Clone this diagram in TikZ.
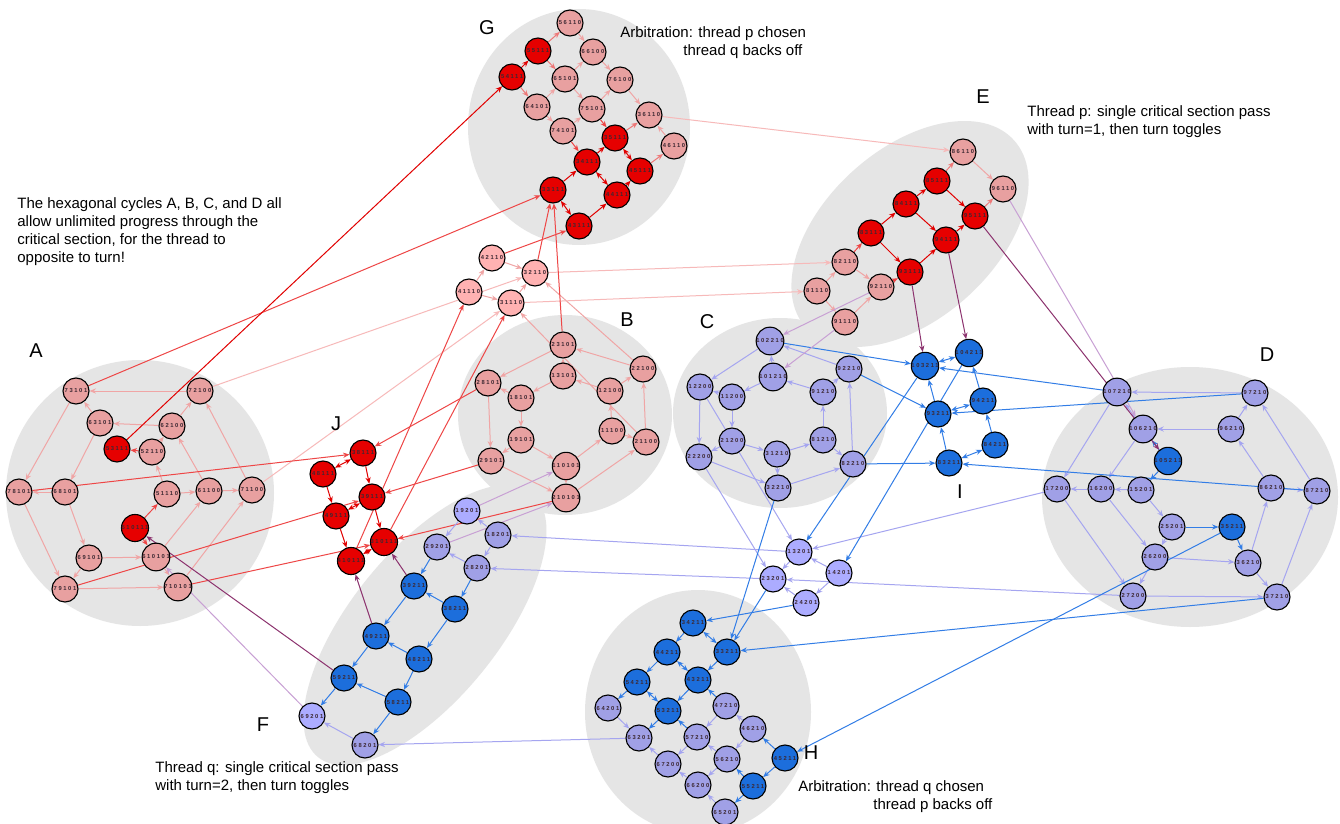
\documentclass[tikz,border=0pt]{standalone}
\usepackage{fontspec}
\setmainfont{Liberation Sans}
\newfontfamily\lblfont[LetterSpace=28]{Liberation Sans}
\usetikzlibrary{arrows.meta}
\pgfdeclarelayer{bg}
\pgfdeclarelayer{edges}
\pgfsetlayers{bg,edges,main}

% node fills
\definecolor{cpk}{RGB}{232,160,160}
\definecolor{clp}{RGB}{255,178,178}
\definecolor{crd}{RGB}{230,0,0}
\definecolor{clv}{RGB}{160,160,230}
\definecolor{cll}{RGB}{172,172,255}
\definecolor{cbl}{RGB}{28,110,220}
\definecolor{cgr}{RGB}{229,229,229}
% connector colours
\definecolor{kpk}{RGB}{240,165,165}
\definecolor{klp}{RGB}{247,185,185}
\definecolor{kmr}{RGB}{238,120,120}
\definecolor{krd}{RGB}{238,70,70}
\definecolor{krr}{RGB}{225,0,0}
\definecolor{klv}{RGB}{165,165,240}
\definecolor{kbl}{RGB}{50,125,230}
\definecolor{kpu}{RGB}{140,50,110}
\definecolor{klu}{RGB}{200,160,212}
% label ink
\definecolor{ink}{RGB}{60,40,50}

\begin{document}
\begin{tikzpicture}[x=0.5pt,y=-0.5pt,
  >={Stealth[length=3.2pt,width=2.6pt]},
  st/.style={circle,draw=black,line width=0.55pt,minimum size=13pt,inner sep=0pt,
    text=ink,font=\lblfont\bfseries\fontsize{2.9pt}{3pt}\selectfont},
  pk/.style={st,fill=cpk}, lp/.style={st,fill=clp}, rd/.style={st,fill=crd},
  lv/.style={st,fill=clv}, ll/.style={st,fill=cll}, bl/.style={st,fill=cbl},
  ed/.style={->,line width=0.5pt},
  dbl/.style={<->,line width=0.5pt},
  ep/.style={ed,draw=kpk}, elp/.style={ed,draw=klp}, emr/.style={ed,draw=kmr},
  er/.style={ed,draw=krd}, err/.style={ed,draw=krr},
  ev/.style={ed,draw=klv}, eb/.style={ed,draw=kbl},
  epu/.style={ed,draw=kpu}, elu/.style={ed,draw=klu},
  txt/.style={font=\fontsize{7.5pt}{9pt}\selectfont,align=left,inner sep=0pt,anchor=north west},
  big/.style={font=\fontsize{10pt}{12pt}\selectfont,inner sep=0pt}]

\useasboundingbox (0,0) rectangle (1340,824);

% cluster backgrounds
\begin{pgfonlayer}{bg}
  \fill[white] (0,0) rectangle (1340,824);
  \fill[cgr] (579,127) ellipse [x radius=55.5pt,y radius=59pt];
  \fill[cgr,rotate around={42:(910,234)}] (910,234) ellipse [x radius=70pt,y radius=42.5pt];
  \fill[cgr] (140,493) ellipse [x radius=67pt,y radius=66.5pt];
  \fill[cgr] (565,415) ellipse [x radius=53.5pt,y radius=50pt];
  \fill[cgr] (780,413) ellipse [x radius=53.5pt,y radius=47.5pt];
  \fill[cgr] (1190,497) ellipse [x radius=74pt,y radius=65pt];
  \fill[cgr,rotate around={51:(425,625)}] (425,625) ellipse [x radius=85pt,y radius=37pt];
  \fill[cgr] (698,712) ellipse [x radius=56.5pt,y radius=61pt];
\end{pgfonlayer}

% G
\foreach \nm/\x/\y in {56110/570/23,66100/593/52,65101/565/79,76100/620/80,64101/537/107,
  75101/592/109,36110/649/115,74101/563/131,46110/674/146}
  \node[pk] (n\nm) at (\x,\y) {\nm};
\foreach \nm/\x/\y in {55111/538/51,54111/512/77,35111/615/138,34111/587/162,45111/640/171,
  33111/553/190,44111/617/195,43111/579/226}
  \node[rd] (n\nm) at (\x,\y) {\nm};
% E
\foreach \nm/\x/\y in {86110/963/152,96110/1003/189,82110/845/262,81110/817/291,92110/881/287,91110/845/322}
  \node[pk] (n\nm) at (\x,\y) {\nm};
\foreach \nm/\x/\y in {85111/937/181,84111/906/204,95111/975/216,83111/871/233,94111/946/240,93111/910/272}
  \node[rd] (n\nm) at (\x,\y) {\nm};
% A
\foreach \nm/\x/\y in {73101/76/391,72100/200/391,63101/100/423,62100/172/426,52110/152/452,
  78101/19/492,68101/65/492,51110/167/494,61100/209/491,71100/252/490,69101/89/558,
  610101/156/557,79101/65/589,710101/178/587}
  \node[pk] (n\nm) at (\x,\y) {\nm};
\node[rd] (n53111) at (117,449) {53111};
\node[rd] (n510111) at (135,528) {510111};
% between A, B and G
\foreach \nm/\x/\y in {42110/492/258,32110/535/273,41110/469/292,31110/511/303}
  \node[lp] (n\nm) at (\x,\y) {\nm};
% B
\foreach \nm/\x/\y in {23101/563/345,22100/643/369,13101/563/376,28101/488/383,12100/610/391,
  18101/521/398,11100/612/431,21100/646/442,19101/521/440,29101/491/461,110101/566/466,210101/566/498}
  \node[pk] (n\nm) at (\x,\y) {\nm};
% J
\foreach \nm/\x/\y in {38111/363/453,48111/323/474,39111/372/497,49111/336/516,310111/384/542,410111/351/561}
  \node[rd] (n\nm) at (\x,\y) {\nm};
% C
\foreach \nm/\x/\y in {102210/770/341,92210/849/369,101210/773/377,91210/823/392,12200/700/387,
  11200/732/397,21200/732/441,81210/823/440,31210/777/454,22200/699/457,82210/853/464,32210/778/488}
  \node[lv] (n\nm) at (\x,\y) {\nm};
% I
\foreach \nm/\x/\y in {103211/925/366,104211/969/353,94211/983/401,93211/938/414,84211/995/445,83211/949/463}
  \node[bl] (n\nm) at (\x,\y) {\nm};
% D
\foreach \nm/\x/\y in {107210/1117/392,97210/1255/393,106210/1143/429,96210/1231/429,17200/1057/489,
  16200/1101/489,15201/1141/490,86210/1271/488,87210/1317/491,25201/1172/527,26200/1155/557,
  36210/1248/563,27200/1133/596,37210/1277/597}
  \node[lv] (n\nm) at (\x,\y) {\nm};
\node[bl] (n105211) at (1168,461) {105211};
\node[bl] (n35211) at (1232,527) {35211};
% F
\foreach \nm/\x/\y in {18201/498/535,29201/437/547,28201/477/568,68201/365/745}
  \node[lv] (n\nm) at (\x,\y) {\nm};
\foreach \nm/\x/\y in {19201/467/511,69201/312/716}
  \node[ll] (n\nm) at (\x,\y) {\nm};
\foreach \nm/\x/\y in {39211/414/586,38211/455/609,49211/376/636,48211/419/659,59211/344/678,58211/398/702}
  \node[bl] (n\nm) at (\x,\y) {\nm};
% between C, D and H
\foreach \nm/\x/\y in {13201/799/552,14201/839/573,23201/773/579,24201/806/603}
  \node[ll] (n\nm) at (\x,\y) {\nm};
% H
\foreach \nm/\x/\y in {34211/693/623,44211/667/652,33211/727/652,54211/637/682,43211/698/680,
  53211/668/711,45211/785/758,55211/753/786}
  \node[bl] (n\nm) at (\x,\y) {\nm};
\foreach \nm/\x/\y in {64201/608/708,47210/726/706,63201/639/738,57210/697/737,46210/753/729,
  67200/668/764,56210/727/759,66200/698/785,65201/725/812}
  \node[lv] (n\nm) at (\x,\y) {\nm};

% labels and notes
\node[big] (lG) at (487,28) {G};
\node[big] (lE) at (983,97) {E};
\node[big] (lA) at (36,351) {A};
\node[big] (lB) at (627,320) {B};
\node[big] (lC) at (707,322) {C};
\node[big] (lD) at (1267,355) {D};
\node[big] (lJ) at (336,424) {J};
\node[big] (lI) at (960,492) {I};
\node[big] (lF) at (263,725) {F};
\node[big] (lH) at (811,753) {H};
\node[txt] (arbp) at (620,26) {Arbitration: thread p chosen\\\hspace*{31.5pt}thread q backs off};
\node[txt] (thp) at (1027,105) {Thread p: single critical section pass\\with turn=1, then turn toggles};
\node[txt] (hex) at (17,197) {The hexagonal cycles A, B, C, and D all\\allow unlimited progress through the\\critical section, for the thread to\\opposite to turn!};
\node[txt] (thq) at (155,761) {Thread q: single critical section pass\\with turn=2, then turn toggles};
\node[txt] (arbq) at (798,780) {Arbitration: thread q chosen\\\hspace*{37.5pt}thread p backs off};

\begin{pgfonlayer}{edges}
% pink to pink
\foreach \a/\b in {72100/73101,73101/78101,62100/63101,63101/73101,62100/72100,52110/62100,
  63101/68101,68101/78101,51110/52110,51110/61100,61100/71100,61100/62100,71100/72100,
  68101/69101,69101/610101,69101/79101,78101/79101,79101/710101,610101/61100,710101/71100,
  610101/710101,
  22100/23101,23101/28101,12100/13101,13101/23101,12100/22100,21100/22100,11100/12100,
  11100/21100,13101/18101,18101/28101,28101/29101,18101/19101,19101/29101,19101/110101,
  29101/210101,110101/11100,210101/21100,110101/210101,22100/32110,21100/31110,
  41110/42110,42110/32110,41110/31110,31110/32110,
  56110/66100,64101/65101,65101/66100,66100/76100,65101/75101,64101/74101,74101/75101,
  75101/76100,76100/36110,46110/36110,
  81110/82110,86110/96110,82110/92110,81110/91110,91110/92110}
  \draw[ep] (n\a) -- (n\b);
\foreach \a/\b in {72100/32110,71100/31110,36110/86110,31110/81110,32110/82110}
  \draw[elp] (n\a) -- (n\b);
% red to pink
\foreach \a/\b in {55111/56110,55111/65101,54111/64101,35111/36110,45111/46110,85111/86110,95111/96110}
  \draw[emr] (n\a) -- (n\b);
% into the red states
\foreach \a/\b in {52110/53111,73101/33111,78101/38111,79101/39111,710101/310111,23101/33111,
  28101/38111,29101/39111,210101/310111,42110/43111,32110/33111,75101/35111,74101/34111,
  82110/83111,92110/93111,510111/51110,510111/610101,410111/41110,310111/31110}
  \draw[er] (n\a) -- (n\b);
\foreach \a/\b in {53111/54111,54111/55111,34111/35111,33111/34111,44111/45111,43111/44111,
  83111/84111,84111/85111,85111/95111,84111/94111,94111/95111,83111/93111,93111/94111,
  38111/39111,48111/49111,39111/310111,49111/410111}
  \draw[err] (n\a) -- (n\b);
\foreach \a/\b in {35111/45111,34111/44111,33111/43111,48111/38111,39111/49111,310111/410111}
  \draw[err,dbl] (n\a) -- (n\b);
% lavender
\foreach \a/\b in {11200/12200,11200/21200,21200/22200,12200/22200,21200/31210,22200/32210,
  31210/32210,31210/81210,32210/82210,81210/82210,81210/91210,82210/92210,91210/92210,
  91210/101210,92210/102210,101210/102210,101210/11200,102210/12200,12200/13201,22200/23201,
  97210/107210,96210/97210,96210/106210,86210/96210,86210/87210,87210/97210,37210/87210,
  36210/86210,27200/37210,26200/36210,36210/37210,15201/25201,25201/26200,26200/27200,
  16200/26200,17200/27200,15201/16200,16200/17200,107210/17200,106210/16200,106210/107210,
  17200/13201,27200/23201,
  14201/13201,13201/23201,14201/24201,24201/23201,13201/18201,23201/28201,
  18201/19201,19201/29201,18201/28201,28201/29201,68201/69201,
  65201/66200,66200/67200,67200/63201,56210/66200,46210/56210,56210/57210,57210/67200,
  46210/47210,47210/57210,64201/63201,63201/68201}
  \draw[ev] (n\a) -- (n\b);
% blue
\foreach \a/\b in {32210/33211,82210/83211,92210/93211,102210/103211,
  83211/93211,84211/94211,93211/103211,94211/104211,103211/13201,104211/14201,
  35211/36210,25201/35211,105211/15201,105211/106210,107210/103211,97210/93211,87210/83211,
  37210/33211,35211/45211,23201/33211,24201/34211,
  29201/39211,28201/38211,38211/39211,39211/49211,38211/48211,48211/49211,49211/59211,
  48211/58211,58211/59211,59211/69201,58211/68201,
  45211/55211,55211/65201,55211/56210,45211/46210,47210/43211,57210/53211,53211/63201,
  54211/64201,43211/53211,33211/43211,44211/54211,34211/44211}
  \draw[eb] (n\a) -- (n\b);
\foreach \a/\b in {83211/84211,93211/94211,103211/104211,53211/54211,43211/44211,33211/34211}
  \draw[eb,dbl] (n\a) -- (n\b);
% turn changes
\foreach \a/\b in {93111/103211,94111/104211,95111/105211,39211/310111,49211/410111,59211/510111}
  \draw[epu] (n\a) -- (n\b);
\foreach \a/\b in {92110/102210,91110/101210,96110/106210,69201/610101,19201/110101,29201/210101}
  \draw[elu] (n\a) -- (n\b);
\end{pgfonlayer}
\end{tikzpicture}
\end{document}
